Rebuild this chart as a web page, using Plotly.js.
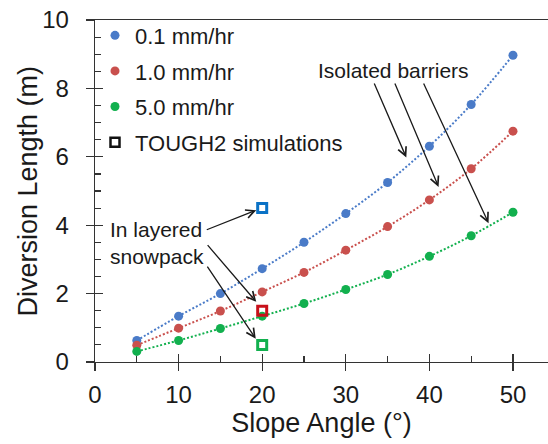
<!DOCTYPE html>
<html>
<head>
<meta charset="utf-8">
<script src="https://cdn.plot.ly/plotly-3.0.1.min.js"></script>
<style>
  html, body { margin: 0; padding: 0; background: #fff; }
  #chart { width: 548px; height: 444px; }
</style>
</head>
<body>
<div id="chart"></div>
<script>
// Slope angle (degrees) of the modelled barriers
const slopeAngle = [5, 10, 15, 20, 25, 30, 35, 40, 45, 50];

// Diversion length (m) for each infiltration rate
const div01 = [0.63, 1.34, 2.00, 2.73, 3.50, 4.34, 5.25, 6.31, 7.53, 8.97];
const div10 = [0.49, 0.99, 1.49, 2.05, 2.62, 3.27, 3.96, 4.74, 5.65, 6.75];
const div50 = [0.31, 0.63, 0.98, 1.34, 1.71, 2.12, 2.56, 3.09, 3.69, 4.38];

// TOUGH2 simulations (layered snowpack, 20 degree slope)
const toughAngle = [20, 20, 20];
const toughLength = [4.5, 1.5, 0.5];

const seriesNames = ['0.1 mm/hr', '1.0 mm/hr', '5.0 mm/hr'];
const seriesColors = ['#4A7BC8', '#C9504D', '#12B04E'];
const toughColors = ['#0A72C6', '#C8101A', '#12B04E'];

const FONT = '"Liberation Sans", Arial, sans-serif';
const INK = '#1a1a1a';
const AX = '#333333';

const seriesValues = [div01, div10, div50];
const traces = [];

// dotted trend lines under the points
seriesValues.forEach((vals, i) => {
  traces.push({
    x: slopeAngle, y: vals, type: 'scatter', mode: 'lines',
    line: { color: seriesColors[i], width: 2, dash: '2px,2px', shape: 'spline', smoothing: 1 },
    showlegend: false, hoverinfo: 'skip', cliponaxis: false
  });
});

// data points
seriesValues.forEach((vals, i) => {
  traces.push({
    x: slopeAngle, y: vals, type: 'scatter', mode: 'markers',
    name: seriesNames[i], legendgroup: 'g' + i,
    marker: { color: seriesColors[i], size: 9, symbol: 'circle' },
    cliponaxis: false
  });
});

// TOUGH2 results as open squares
traces.push({
  x: toughAngle, y: toughLength, type: 'scatter', mode: 'markers',
  showlegend: false, cliponaxis: false,
  marker: { symbol: 'square-open', size: 9, color: toughColors, line: { width: 3, color: toughColors } }
});

// legend key for the TOUGH2 results
traces.push({
  x: [null], y: [null], type: 'scatter', mode: 'markers',
  name: 'TOUGH2 simulations', legendgroup: 'g3',
  marker: { symbol: 'square-open', size: 9, color: '#111', line: { width: 2.5, color: '#111' } }
});

// carrier for the inside tick marks
traces.push({
  x: [null], y: [null], type: 'scatter', mode: 'markers',
  xaxis: 'x2', yaxis: 'y2', showlegend: false, hoverinfo: 'skip'
});

const xRange = [0, 54.19];
const yRange = [0, 10];

function arrow(x, y, ax, ay) {
  return {
    x: x, y: y, ax: ax, ay: ay, axref: 'x', ayref: 'y', xref: 'x', yref: 'y',
    text: '', showarrow: true, arrowhead: 5, arrowsize: 1.3, arrowwidth: 1.3,
    arrowcolor: '#1a1a1a', standoff: 0, startstandoff: 0
  };
}

const annotations = [
  // y-axis title, placed independently of the tick labels
  {
    x: -0.1468, y: 0.5, xref: 'paper', yref: 'paper', text: 'Diversion Length (m)',
    showarrow: false, textangle: -90, xanchor: 'center', yanchor: 'middle',
    font: { family: FONT, size: 27, color: INK }
  },
  {
    x: 35.66, y: 8.53, xref: 'x', yref: 'y', text: 'Isolated barriers', showarrow: false,
    font: { family: FONT, size: 21, color: INK }, xanchor: 'center', yanchor: 'middle'
  },
  arrow(37.24, 5.98, 33.33, 8.19),
  arrow(41.10, 5.12, 35.80, 8.19),
  arrow(47.08, 4.06, 39.23, 8.19),
  {
    x: 1.55, y: 3.47, xref: 'x', yref: 'y', text: 'In layered<br>snowpack', showarrow: false,
    align: 'left', font: { family: FONT, size: 21, color: INK }, xanchor: 'left', yanchor: 'middle'
  },
  arrow(19.29, 4.44, 13.19, 3.85),
  arrow(19.29, 1.76, 13.32, 3.46),
  arrow(19.23, 0.68, 13.32, 2.83)
];

const layout = {
  width: 548, height: 444,
  margin: { l: 95, r: 0, t: 20, b: 82 },
  paper_bgcolor: '#fff', plot_bgcolor: '#fff',
  font: { family: FONT, color: INK },
  showlegend: true,
  legend: {
    x: 0, y: 1.016, xanchor: 'left', yanchor: 'top',
    font: { family: FONT, size: 22, color: INK },
    bgcolor: 'rgba(0,0,0,0)', traceorder: 'grouped', tracegroupgap: 4, itemwidth: 30
  },
  xaxis: {
    range: xRange, showline: true, linecolor: AX, linewidth: 1.3, mirror: true,
    ticks: 'outside', ticklen: 8, tickwidth: 1.3, tickcolor: AX, tick0: 0, dtick: 10,
    showgrid: false, zeroline: false, ticklabelstandoff: 3,
    tickfont: { family: FONT, size: 24, color: INK },
    title: { text: 'Slope Angle (°)', font: { family: FONT, size: 27, color: INK }, standoff: 0 }
  },
  yaxis: {
    range: yRange, showline: true, linecolor: AX, linewidth: 1.3,
    ticks: 'outside', ticklen: 8, tickwidth: 1.3, tickcolor: AX, tick0: 0, dtick: 2,
    showgrid: false, zeroline: false, ticksuffix: '\u2002',
    tickfont: { family: FONT, size: 24, color: INK }
  },
  xaxis2: {
    range: xRange, overlaying: 'x', anchor: 'y2', side: 'bottom',
    ticks: 'inside', ticklen: 8, tickwidth: 1.3, tickcolor: AX, tick0: 0, dtick: 10,
    minor: { ticks: 'inside', ticklen: 6, tickwidth: 1.2, tickcolor: AX, dtick: 5, tick0: 0 },
    showticklabels: false, showline: false, showgrid: false, zeroline: false
  },
  yaxis2: {
    range: yRange, overlaying: 'y', anchor: 'x2', side: 'left',
    ticks: 'inside', ticklen: 8, tickwidth: 1.3, tickcolor: AX, tick0: 0, dtick: 2,
    minor: { ticks: 'inside', ticklen: 6, tickwidth: 1.2, tickcolor: AX, dtick: 0.5, tick0: 0 },
    showticklabels: false, showline: false, showgrid: false, zeroline: false
  },
  annotations: annotations
};

Plotly.newPlot('chart', traces, layout, { displayModeBar: false, staticPlot: true });
</script>
</body>
</html>
